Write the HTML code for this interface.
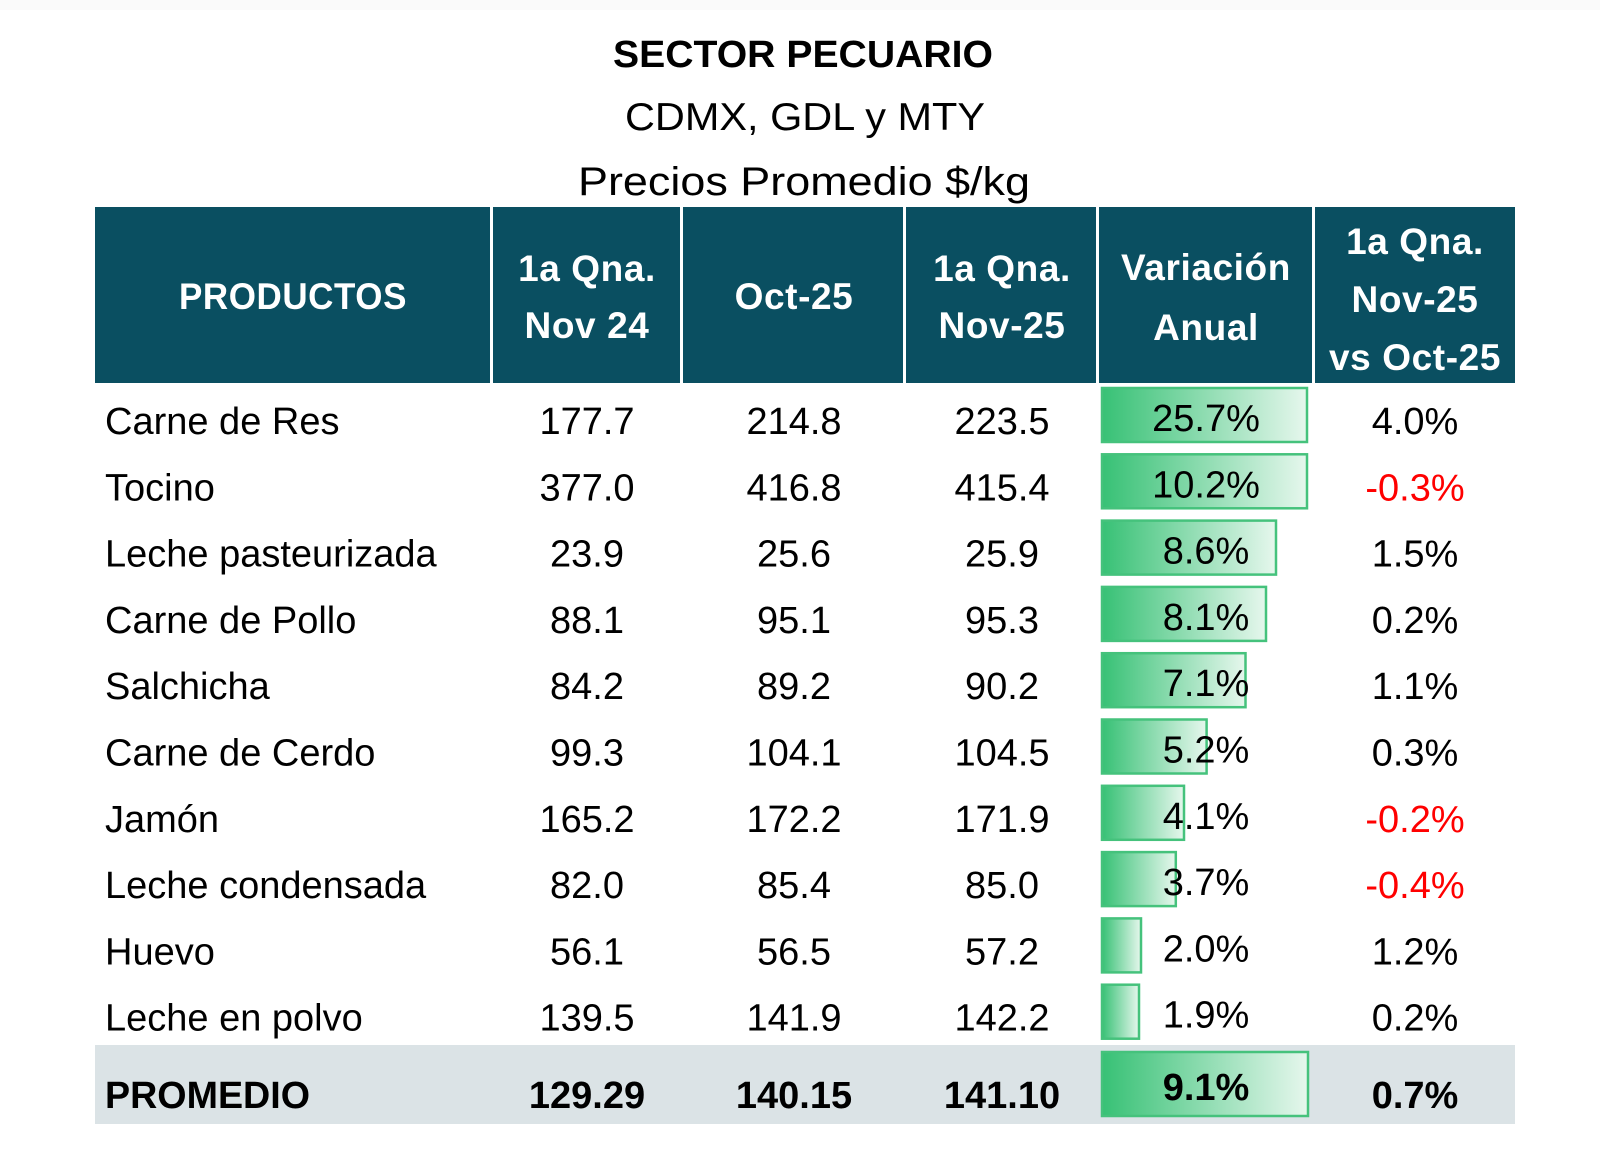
<!DOCTYPE html>
<html><head><meta charset="utf-8"><style>
html,body{margin:0;padding:0;background:#fff;}
svg{display:block;}
text{font-family:"Liberation Sans",Arial,sans-serif;}
.h{fill:#fff;font-weight:bold;font-size:37px;letter-spacing:0.6px;}
.l{fill:#000;font-size:38px;}
.n{fill:#000;font-size:38px;}
.r{fill:#ff0000;font-size:38px;}
.b{fill:#000;font-size:38px;font-weight:bold;}
</style></head><body>
<svg width="1600" height="1153" viewBox="0 0 1600 1153" xmlns="http://www.w3.org/2000/svg">
<defs>
<linearGradient id="g" x1="0" y1="0" x2="1" y2="0">
<stop offset="0" stop-color="#37c175"/>
<stop offset="1" stop-color="#e6f7ed"/>
</linearGradient>
</defs>
<rect x="0" y="0" width="1600" height="1153" fill="#fff"/>
<rect x="0" y="0" width="1600" height="10" fill="#fafafa"/>

<!-- Titles -->
<text x="803" y="67" text-anchor="middle" font-size="38" font-weight="bold" textLength="380" lengthAdjust="spacingAndGlyphs">SECTOR PECUARIO</text>
<text x="805" y="130" text-anchor="middle" font-size="39" textLength="360" lengthAdjust="spacingAndGlyphs">CDMX, GDL y MTY</text>
<text x="804" y="195" text-anchor="middle" font-size="40" textLength="452" lengthAdjust="spacingAndGlyphs">Precios Promedio $/kg</text>

<!-- Header -->
<g fill="#0a4f61">
<rect x="95" y="207" width="395" height="176"/>
<rect x="493" y="207" width="187" height="176"/>
<rect x="683" y="207" width="220" height="176"/>
<rect x="906" y="207" width="190" height="176"/>
<rect x="1099" y="207" width="213" height="176"/>
<rect x="1315" y="207" width="200" height="176"/>
</g>
<text class="h" x="293" y="309" text-anchor="middle" textLength="228" lengthAdjust="spacingAndGlyphs">PRODUCTOS</text>
<text class="h" x="587" y="281" text-anchor="middle">1a Qna.</text>
<text class="h" x="587" y="338" text-anchor="middle">Nov 24</text>
<text class="h" x="794" y="309" text-anchor="middle">Oct-25</text>
<text class="h" x="1002" y="281" text-anchor="middle">1a Qna.</text>
<text class="h" x="1002" y="338" text-anchor="middle">Nov-25</text>
<text class="h" x="1206" y="280" text-anchor="middle">Variación</text>
<text class="h" x="1206" y="340" text-anchor="middle">Anual</text>
<text class="h" x="1415" y="254" text-anchor="middle">1a Qna.</text>
<text class="h" x="1415" y="312" text-anchor="middle">Nov-25</text>
<text class="h" x="1415" y="370" text-anchor="middle">vs Oct-25</text>

<!-- PROMEDIO background -->
<rect x="95" y="1045" width="1420" height="79" fill="#dbe3e6"/>

<!-- Data bars -->
<g fill="url(#g)" stroke="#45c27c" stroke-width="2.5">
<rect x="1102" y="388" width="205" height="54"/>
<rect x="1102" y="454.3" width="205" height="54"/>
<rect x="1102" y="520.6" width="174" height="54"/>
<rect x="1102" y="586.9" width="164" height="54"/>
<rect x="1102" y="653.2" width="143.5" height="54"/>
<rect x="1102" y="719.5" width="104.6" height="54"/>
<rect x="1102" y="785.8" width="82" height="54"/>
<rect x="1102" y="852.1" width="73.8" height="54"/>
<rect x="1102" y="918.4" width="39" height="54"/>
<rect x="1102" y="984.7" width="37" height="54"/>
<rect x="1102" y="1052" width="206" height="64"/>
</g>

<!-- Rows -->
<g class="l">
<text class="l" x="105" y="434">Carne de Res</text>
<text class="l" x="105" y="500.3">Tocino</text>
<text class="l" x="105" y="566.6">Leche pasteurizada</text>
<text class="l" x="105" y="632.9">Carne de Pollo</text>
<text class="l" x="105" y="699.2">Salchicha</text>
<text class="l" x="105" y="765.5">Carne de Cerdo</text>
<text class="l" x="105" y="831.8">Jamón</text>
<text class="l" x="105" y="898.1">Leche condensada</text>
<text class="l" x="105" y="964.4">Huevo</text>
<text class="l" x="105" y="1030.7">Leche en polvo</text>
</g>

<g text-anchor="middle">
<text class="n" x="587" y="434">177.7</text><text class="n" x="794" y="434">214.8</text><text class="n" x="1002" y="434">223.5</text>
<text class="n" x="587" y="500.3">377.0</text><text class="n" x="794" y="500.3">416.8</text><text class="n" x="1002" y="500.3">415.4</text>
<text class="n" x="587" y="566.6">23.9</text><text class="n" x="794" y="566.6">25.6</text><text class="n" x="1002" y="566.6">25.9</text>
<text class="n" x="587" y="632.9">88.1</text><text class="n" x="794" y="632.9">95.1</text><text class="n" x="1002" y="632.9">95.3</text>
<text class="n" x="587" y="699.2">84.2</text><text class="n" x="794" y="699.2">89.2</text><text class="n" x="1002" y="699.2">90.2</text>
<text class="n" x="587" y="765.5">99.3</text><text class="n" x="794" y="765.5">104.1</text><text class="n" x="1002" y="765.5">104.5</text>
<text class="n" x="587" y="831.8">165.2</text><text class="n" x="794" y="831.8">172.2</text><text class="n" x="1002" y="831.8">171.9</text>
<text class="n" x="587" y="898.1">82.0</text><text class="n" x="794" y="898.1">85.4</text><text class="n" x="1002" y="898.1">85.0</text>
<text class="n" x="587" y="964.4">56.1</text><text class="n" x="794" y="964.4">56.5</text><text class="n" x="1002" y="964.4">57.2</text>
<text class="n" x="587" y="1030.7">139.5</text><text class="n" x="794" y="1030.7">141.9</text><text class="n" x="1002" y="1030.7">142.2</text>

<text class="n" x="1206" y="431">25.7%</text>
<text class="n" x="1206" y="497.3">10.2%</text>
<text class="n" x="1206" y="563.6">8.6%</text>
<text class="n" x="1206" y="629.9">8.1%</text>
<text class="n" x="1206" y="696.2">7.1%</text>
<text class="n" x="1206" y="762.5">5.2%</text>
<text class="n" x="1206" y="828.8">4.1%</text>
<text class="n" x="1206" y="895.1">3.7%</text>
<text class="n" x="1206" y="961.4">2.0%</text>
<text class="n" x="1206" y="1027.7">1.9%</text>

<text class="n" x="1415" y="434">4.0%</text>
<text class="r" x="1415" y="500.3">-0.3%</text>
<text class="n" x="1415" y="566.6">1.5%</text>
<text class="n" x="1415" y="632.9">0.2%</text>
<text class="n" x="1415" y="699.2">1.1%</text>
<text class="n" x="1415" y="765.5">0.3%</text>
<text class="r" x="1415" y="831.8">-0.2%</text>
<text class="r" x="1415" y="898.1">-0.4%</text>
<text class="n" x="1415" y="964.4">1.2%</text>
<text class="n" x="1415" y="1030.7">0.2%</text>

<text class="b" x="587" y="1108">129.29</text>
<text class="b" x="794" y="1108">140.15</text>
<text class="b" x="1002" y="1108">141.10</text>
<text class="b" x="1206" y="1100">9.1%</text>
<text class="b" x="1415" y="1108">0.7%</text>
</g>
<text class="b" x="105" y="1108" textLength="205" lengthAdjust="spacingAndGlyphs">PROMEDIO</text>
</svg>
</body></html>
